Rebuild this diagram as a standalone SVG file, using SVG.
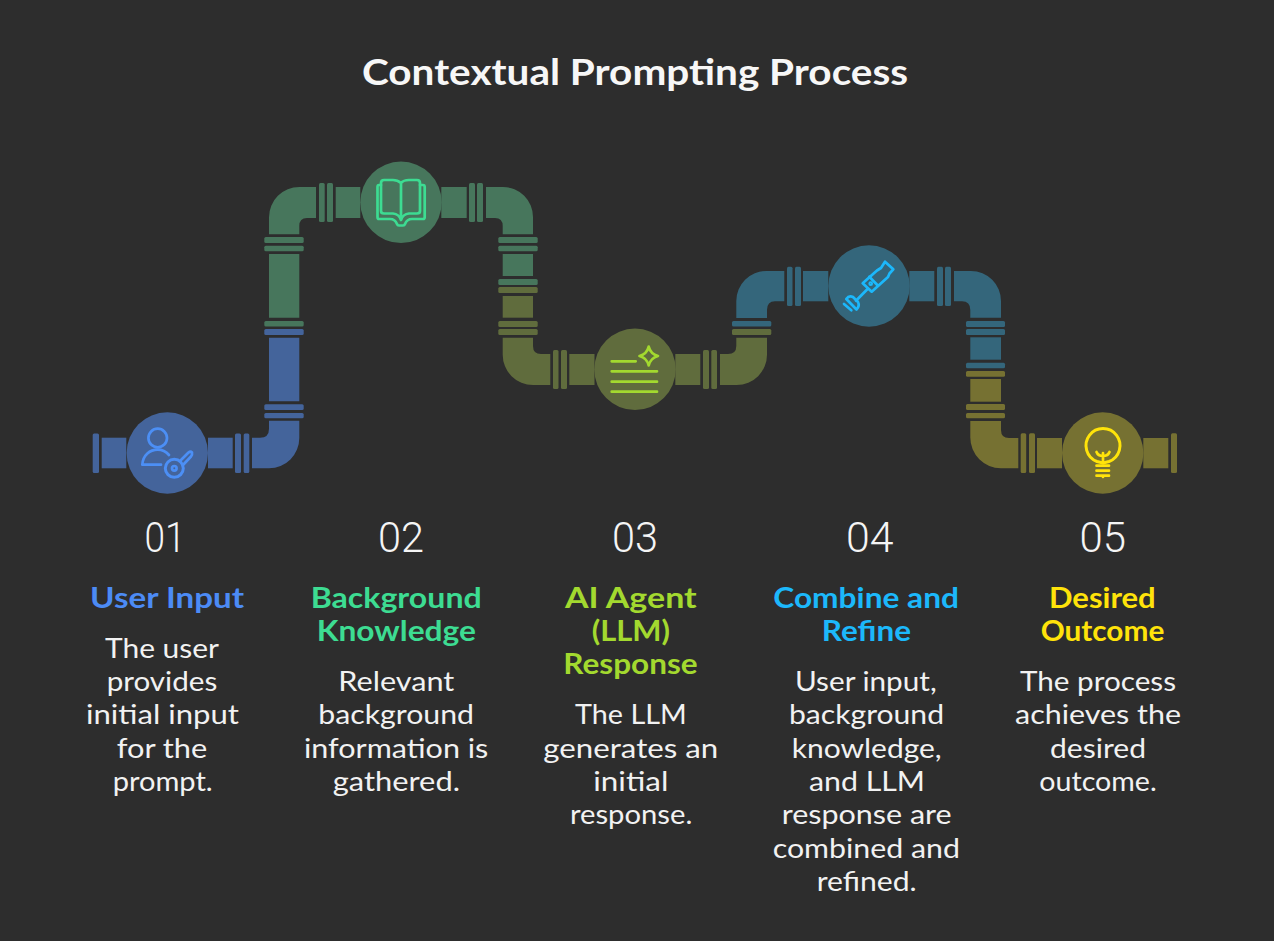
<svg xmlns="http://www.w3.org/2000/svg" width="1274" height="941" viewBox="0 0 1274 941">
<style>
.b{fill:#44649b}.g{fill:#47765c}.o{fill:#606c3d}.t{fill:#34667b}.y{fill:#767132}
rect{rx:1.5px}
.ic{fill:none;stroke-width:2.7;stroke-linecap:round;stroke-linejoin:round}
text{font-family:"Lato","Liberation Sans",sans-serif}
.title{font-size:36px;font-weight:700;fill:#f7f7f7}
.num{font-family:"Roboto","Liberation Sans",sans-serif;font-size:43px;font-weight:300;fill:#f5f5f5}
.head{font-size:28px;font-weight:700}
.desc{font-size:27px;fill:#f2f2f2}
</style>
<rect width="1274" height="941" fill="#2d2d2d" style="rx:0"/>
<text class="title" x="362" y="85" textLength="546" lengthAdjust="spacingAndGlyphs">Contextual Prompting Process</text>
<g id="connectors">
<g class="b">
<rect x="92.7" y="433.5" width="6.3" height="39.5"/>
<path d="M101.7 437.7H126.3V468.3H101.7Z"/>
<path d="M208 437.7H232.7V468.3H208Z"/>
<rect x="235" y="433.5" width="6" height="39.5"/><rect x="243.7" y="433.5" width="5.6" height="39.5"/>
<path d="M252 437.7H260Q269 437.7 269 428.7V420.7H299.3V438A30.3 30.3 0 0 1 269 468.3H252Z"/>
<rect x="264.3" y="413" width="39.4" height="5.3"/><rect x="264.3" y="404.3" width="39.4" height="5.7"/>
<path d="M269 337.7H299.3V401.3H269Z"/>
<rect x="264.3" y="329" width="39.4" height="6"/>
</g>
<g class="g">
<rect x="264.3" y="321" width="39.4" height="5.5"/>
<path d="M269 254H299.3V317.7H269Z"/>
<rect x="264.3" y="245.7" width="39.4" height="5.5"/><rect x="264.3" y="237" width="39.4" height="6"/>
<path d="M269 234.3V217.3A30.3 30.3 0 0 1 299.3 187H316V218H307Q299.3 218 299.3 226V234.3Z"/>
<rect x="319" y="183" width="5.7" height="39"/><rect x="327" y="183" width="6" height="39"/>
<path d="M335.7 187H360.3V218H335.7Z"/>
<path d="M441.3 187H466.7V218H441.3Z"/>
<rect x="469" y="183" width="6" height="39"/><rect x="477" y="183" width="6" height="39"/>
<path d="M486 187H503A30 30 0 0 1 533 217V234.3H502.7V226Q502.7 218 495 218H486Z"/>
<rect x="498.3" y="237" width="39.4" height="6"/><rect x="498.3" y="245.7" width="39.4" height="5.5"/>
<path d="M502.7 254H533V276H502.7Z"/>
<rect x="498.3" y="279" width="39.4" height="6"/>
</g>
<g class="o">
<rect x="498.3" y="287" width="39.4" height="6"/>
<path d="M502.7 296H533V317.7H502.7Z"/>
<rect x="498.3" y="321" width="39.4" height="6"/><rect x="498.3" y="329" width="39.4" height="6"/>
<path d="M502.7 337.7H533V346Q533 354 541 354H550.3V385H533A30.3 30.3 0 0 1 502.7 354.7Z"/>
<rect x="553" y="350" width="5.5" height="39"/><rect x="561" y="350" width="6" height="39"/>
<path d="M569.3 354H594.5V385H569.3Z"/>
<path d="M675.3 354H700.3V385H675.3Z"/>
<rect x="703" y="350" width="6" height="39"/><rect x="711.3" y="350" width="5.7" height="39"/>
<path d="M720 354H728Q736.3 354 736.3 346V337.7H767V354.7A30.3 30.3 0 0 1 736.7 385H720Z"/>
<rect x="732" y="329" width="39.3" height="6"/>
</g>
<g class="t">
<rect x="732" y="321" width="39.3" height="5.5"/>
<path d="M736.3 318V301A30 30 0 0 1 766.3 271H784.3V301.3H775Q767 301.3 767 310V318Z"/>
<rect x="787" y="266.7" width="5.5" height="39.3"/><rect x="795" y="266.7" width="6" height="39.3"/>
<path d="M803 271H828.3V301.3H803Z"/>
<path d="M909.3 271H934.3V301.3H909.3Z"/>
<rect x="937" y="266.7" width="6" height="39.3"/><rect x="945" y="266.7" width="6" height="39.3"/>
<path d="M954 271H971A30 30 0 0 1 1001 301V317.7H970.3V310Q970.3 301.3 962 301.3H954Z"/>
<rect x="966" y="321" width="39" height="6"/><rect x="966" y="329" width="39" height="6"/>
<path d="M970.3 337.3H1001V359.7H970.3Z"/>
<rect x="966" y="362.7" width="39" height="5.5"/>
</g>
<g class="y">
<rect x="966" y="371" width="39" height="5.7"/>
<path d="M970.3 379H1001V401.7H970.3Z"/>
<rect x="966" y="404" width="39" height="6"/><rect x="966" y="413" width="39" height="5.3"/>
<path d="M970.3 421H1001V430Q1001 438 1009 438H1018.3V468.3H1001A30.7 30.7 0 0 1 970.3 437.6Z"/>
<rect x="1020.7" y="433.3" width="5.5" height="39.7"/><rect x="1029" y="433.3" width="6" height="39.7"/>
<path d="M1037 438H1062V468.3H1037Z"/>
<path d="M1143.3 438H1168.3V468.3H1143.3Z"/>
<rect x="1171" y="433.3" width="6" height="39.7"/>
</g>
</g>
<g id="node-1">
<circle class="b" cx="167.3" cy="453" r="40.7"/>
<g class="ic" stroke="#4c8ff5">
<circle cx="157.7" cy="438" r="9.3"/>
<path d="M161 464.7H142.3C143 455 150 449.7 157.7 449.7C161 449.7 165.5 451 169 455"/>
<circle cx="174.3" cy="468.3" r="9" stroke-width="3"/><circle cx="174.3" cy="468.3" r="2.3"/>
<path d="M180 461L188.5 452.5Q190.5 451 192 452.5Q192.5 455 191 456.5L183 465"/>
</g>
<text class="num" x="144.5" y="551.7" textLength="41" lengthAdjust="spacingAndGlyphs">01</text>
<text class="head" x="90" y="607.5" textLength="154" lengthAdjust="spacingAndGlyphs" fill="#4c8bf5">User Input</text>
<text class="desc" x="105" y="657.5" textLength="114" lengthAdjust="spacingAndGlyphs">The user</text>
<text class="desc" x="106.7" y="690.8" textLength="110.6" lengthAdjust="spacingAndGlyphs">provides</text>
<text class="desc" x="86" y="724.1" textLength="153" lengthAdjust="spacingAndGlyphs">initial input</text>
<text class="desc" x="116.7" y="757.5" textLength="90.6" lengthAdjust="spacingAndGlyphs">for the</text>
<text class="desc" x="112.7" y="790.8" textLength="100" lengthAdjust="spacingAndGlyphs">prompt.</text>
</g>
<g id="node-2">
<circle class="g" cx="401" cy="202.3" r="40.7"/>
<g class="ic" stroke="#3ddc92">
<path d="M401 183C398 180.5 396 180 393 180H384Q381 180 381 183V211Q381 213.5 384 213.5H393Q399 214 401 220Q403 214 409 213.5H417Q420 213.5 420 211V183Q420 180 417 180H409C406 180 403 180.5 401 183V220"/>
<path d="M381 185H379Q377.5 185 377.5 187V217Q377.5 219 379 219H390Q395 219 397 224Q397.5 225.5 399 225.5H403Q404.5 225.5 405 224Q407 219 412 219H423Q424.7 219 424.7 217V187Q424.7 185 423 185H420"/>
</g>
<text class="num" x="378" y="551.7" textLength="46" lengthAdjust="spacingAndGlyphs">02</text>
<text class="head" x="310.7" y="607.5" textLength="171" lengthAdjust="spacingAndGlyphs" fill="#3ddc92">Background</text>
<text class="head" x="316.7" y="640.8" textLength="159.3" lengthAdjust="spacingAndGlyphs" fill="#3ddc92">Knowledge</text>
<text class="desc" x="338.3" y="690.8" textLength="116" lengthAdjust="spacingAndGlyphs">Relevant</text>
<text class="desc" x="318.3" y="724.1" textLength="155.7" lengthAdjust="spacingAndGlyphs">background</text>
<text class="desc" x="304" y="757.5" textLength="184.3" lengthAdjust="spacingAndGlyphs">information is</text>
<text class="desc" x="332.7" y="790.8" textLength="127.3" lengthAdjust="spacingAndGlyphs">gathered.</text>
</g>
<g id="node-3">
<circle class="o" cx="635" cy="369.3" r="40.7"/>
<g class="ic" stroke="#a3d92f">
<path d="M611.7 361.3H635.7M611.7 371.3H657M611.7 381.7H657M611.7 391.7H657"/>
<path d="M648.7 346.5Q650.5 354 658 356Q650.5 358 648.7 365.5Q647 358 639.5 356Q647 354 648.7 346.5Z"/>
</g>
<text class="num" x="612" y="551.7" textLength="46" lengthAdjust="spacingAndGlyphs">03</text>
<text class="head" x="565" y="607.5" textLength="131.7" lengthAdjust="spacingAndGlyphs" fill="#a3d92f">AI Agent</text>
<text class="head" x="591.7" y="640.8" textLength="78.3" lengthAdjust="spacingAndGlyphs" fill="#a3d92f">(LLM)</text>
<text class="head" x="563.3" y="674.2" textLength="134.4" lengthAdjust="spacingAndGlyphs" fill="#a3d92f">Response</text>
<text class="desc" x="575" y="724.1" textLength="111.7" lengthAdjust="spacingAndGlyphs">The LLM</text>
<text class="desc" x="543.3" y="757.5" textLength="175" lengthAdjust="spacingAndGlyphs">generates an</text>
<text class="desc" x="593.3" y="790.8" textLength="75" lengthAdjust="spacingAndGlyphs">initial</text>
<text class="desc" x="570" y="824.1" textLength="122.3" lengthAdjust="spacingAndGlyphs">response.</text>
</g>
<g id="node-4">
<circle class="t" cx="869" cy="286" r="40.7"/>
<g class="ic" stroke="#1cb8fb">
<path d="M885 261.7L893.3 269.3L889.5 273.5L888 277L871.7 291.7L862.7 283.3L877 270.5L881 268Z"/>
<path d="M869.3 276.7L877.3 285"/>
<circle cx="870.7" cy="283.7" r="1"/>
<path d="M867.3 289.3L856 300.7"/>
<path d="M846.3 299Q849 295 853 297L858 302Q860 306 856.5 309.5Z"/>
<path d="M844 304L851.3 310.3"/>
</g>
<text class="num" x="846" y="551.7" textLength="47.5" lengthAdjust="spacingAndGlyphs">04</text>
<text class="head" x="773.3" y="607.5" textLength="185.7" lengthAdjust="spacingAndGlyphs" fill="#1cb8fb">Combine and</text>
<text class="head" x="821.7" y="640.8" textLength="89.3" lengthAdjust="spacingAndGlyphs" fill="#1cb8fb">Refine</text>
<text class="desc" x="795" y="690.8" textLength="141.7" lengthAdjust="spacingAndGlyphs">User input,</text>
<text class="desc" x="789" y="724.1" textLength="155" lengthAdjust="spacingAndGlyphs">background</text>
<text class="desc" x="791.7" y="757.5" textLength="150" lengthAdjust="spacingAndGlyphs">knowledge,</text>
<text class="desc" x="809" y="790.8" textLength="116" lengthAdjust="spacingAndGlyphs">and LLM</text>
<text class="desc" x="781.7" y="824.1" textLength="170" lengthAdjust="spacingAndGlyphs">response are</text>
<text class="desc" x="772.7" y="857.5" textLength="187.3" lengthAdjust="spacingAndGlyphs">combined and</text>
<text class="desc" x="816.7" y="890.8" textLength="100" lengthAdjust="spacingAndGlyphs">refined.</text>
</g>
<g id="node-5">
<circle class="y" cx="1102.7" cy="453" r="40.7"/>
<g class="ic" stroke="#ffe30a">
<path d="M1097 461.5A17 17 0 1 1 1109 461.5L1103 463Z" stroke-width="3"/>
<path d="M1103 453V463M1096.5 452Q1098 456 1103 456Q1108 456 1109.5 452"/>
<path d="M1096.5 465.7H1109M1096.5 470.7H1109M1096.5 475.7H1109M1103 475.7V477"/>
</g>
<text class="num" x="1079.5" y="551.7" textLength="46.5" lengthAdjust="spacingAndGlyphs">05</text>
<text class="head" x="1049" y="607.5" textLength="106.7" lengthAdjust="spacingAndGlyphs" fill="#ffe30a">Desired</text>
<text class="head" x="1040.7" y="640.8" textLength="123.6" lengthAdjust="spacingAndGlyphs" fill="#ffe30a">Outcome</text>
<text class="desc" x="1020" y="690.8" textLength="156" lengthAdjust="spacingAndGlyphs">The process</text>
<text class="desc" x="1015" y="724.1" textLength="166" lengthAdjust="spacingAndGlyphs">achieves the</text>
<text class="desc" x="1050" y="757.5" textLength="96" lengthAdjust="spacingAndGlyphs">desired</text>
<text class="desc" x="1039.3" y="790.8" textLength="117.4" lengthAdjust="spacingAndGlyphs">outcome.</text>
</g>
</svg>
